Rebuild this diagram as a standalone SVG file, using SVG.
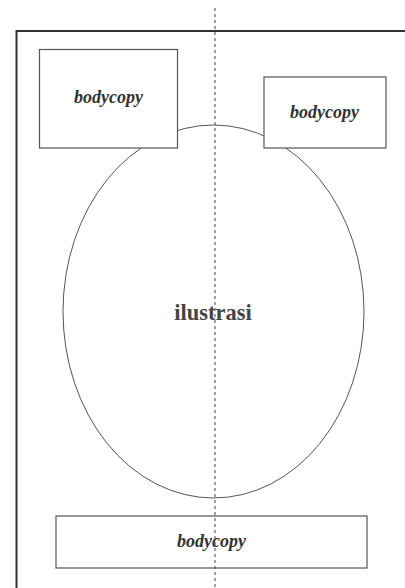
<svg xmlns="http://www.w3.org/2000/svg" width="405" height="588" viewBox="0 0 405 588">
<style>
.box{fill:#fff;stroke:#555;stroke-width:1.2}
.lbl{font-family:"Liberation Serif",serif;font-weight:bold;font-style:italic;font-size:18px;fill:#333;text-anchor:middle}
.big{font-family:"Liberation Serif",serif;font-weight:bold;font-size:22.5px;fill:#444;text-anchor:middle}
.guide{stroke:#444;stroke-width:1;stroke-dasharray:3,3;fill:none}
</style>
<rect width="405" height="588" fill="#fff"/>
<g id="frame">
<path d="M16.5,588 V31 H405" fill="none" stroke="#333" stroke-width="2"/>
</g>
<g id="ilustrasi">
<ellipse cx="213.5" cy="311.5" rx="150.5" ry="186.5" fill="none" stroke="#555" stroke-width="1"/>
<text class="big" x="213" y="320">ilustrasi</text>
</g>
<g id="bodycopy-left">
<rect class="box" x="39.5" y="49.5" width="138" height="98.5"/>
<text class="lbl" x="108.5" y="103">bodycopy</text>
</g>
<g id="bodycopy-right">
<rect class="box" x="264" y="77" width="122" height="71"/>
<text class="lbl" x="324.5" y="118">bodycopy</text>
</g>
<g id="bodycopy-bottom">
<rect class="box" x="56" y="516" width="311" height="52"/>
<text class="lbl" x="211.5" y="547">bodycopy</text>
</g>
<g id="connectors">
<line class="guide" x1="215" y1="8" x2="215" y2="588"/>
</g>
</svg>
